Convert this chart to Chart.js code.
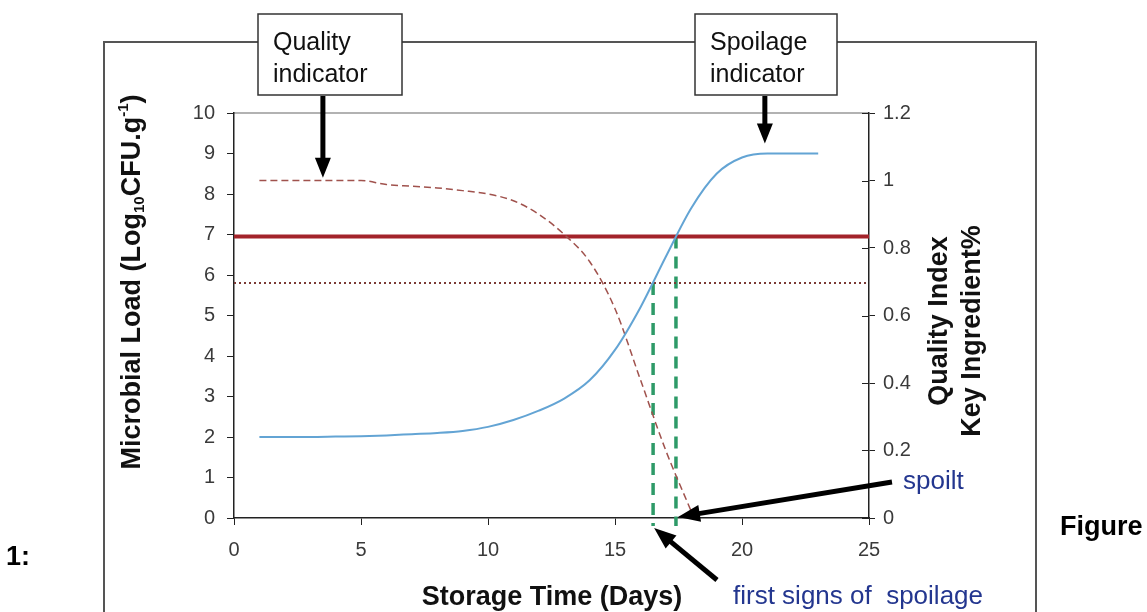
<!DOCTYPE html>
<html>
<head>
<meta charset="utf-8">
<script src="https://cdn.jsdelivr.net/npm/chart.js@4.4.1/dist/chart.umd.min.js"></script>
<style>
  html, body { margin: 0; padding: 0; background: #fff; }
  #wrap { width: 1147px; height: 612px; }
</style>
</head>
<body>
<div id="wrap"><canvas id="myChart" width="1147" height="612"></canvas></div>
<script>
// data
const days = [1, 2, 3, 4, 5, 6, 7, 8, 9, 10, 11, 12, 13, 14, 15, 16, 17, 18, 19, 20, 21, 22, 23];
const microbialLoad = [2.0, 2.0, 2.0, 2.01, 2.02, 2.04, 2.07, 2.1, 2.15, 2.25, 2.42, 2.65, 2.95, 3.4, 4.15, 5.2, 6.45, 7.65, 8.5, 8.9, 9.0, 9.0, 9.0];
const qualityDays = [1, 2, 3, 4, 5, 6, 7, 8, 9, 10, 11, 12, 13, 14, 15, 16, 17, 18];
const qualityIndex = [1.0, 1.0, 1.0, 1.0, 1.0, 0.988, 0.983, 0.978, 0.97, 0.96, 0.94, 0.9, 0.84, 0.76, 0.62, 0.41, 0.2, 0.02];

const spoiltLevel = 6.95;     // solid red limit
const firstSignsLevel = 5.8;  // dotted limit
const firstSignsDay = 16.5;
const spoiltDay = 17.4;

const xTickValues = [0, 5, 10, 15, 20, 25];
const loadTickValues = [0, 1, 2, 3, 4, 5, 6, 7, 8, 9, 10];
const qualityTickValues = [0, 0.2, 0.4, 0.6, 0.8, 1, 1.2];

const FONT = 'Liberation Sans, Arial, sans-serif';

function drawArrow(ctx, x1, y1, x2, y2, w, headLen, headW) {
  const a = Math.atan2(y2 - y1, x2 - x1);
  const len = Math.hypot(x2 - x1, y2 - y1);
  ctx.save();
  ctx.translate(x2, y2);
  ctx.rotate(a);
  ctx.fillStyle = '#000';
  ctx.fillRect(-len, -w / 2, len - headLen + 1, w);
  ctx.beginPath();
  ctx.moveTo(0, 0);
  ctx.lineTo(-headLen, -headW / 2);
  ctx.lineTo(-headLen, headW / 2);
  ctx.closePath();
  ctx.fill();
  ctx.restore();
}

function labelBox(ctx, x, y, w, h, lines) {
  ctx.save();
  ctx.fillStyle = '#fff';
  ctx.fillRect(x, y, w, h);
  ctx.strokeStyle = '#333';
  ctx.lineWidth = 1.5;
  ctx.strokeRect(x, y, w, h);
  ctx.fillStyle = '#111';
  ctx.font = '25px ' + FONT;
  ctx.textAlign = 'left';
  ctx.textBaseline = 'alphabetic';
  ctx.fillText(lines[0], x + 15, y + 36);
  ctx.fillText(lines[1], x + 15, y + 68);
  ctx.restore();
}

const decor = {
  id: 'decor',
  beforeDraw(chart) {
    const ctx = chart.ctx;
    const area = chart.chartArea;
    ctx.save();
    ctx.fillStyle = '#fff';
    ctx.fillRect(0, 0, chart.width, chart.height);
    // outer frame
    ctx.strokeStyle = '#555';
    ctx.lineWidth = 2;
    ctx.strokeRect(104, 42, 932, 620);
    // top border of plot area
    ctx.strokeStyle = '#999';
    ctx.lineWidth = 1.5;
    ctx.beginPath();
    ctx.moveTo(area.left, area.top);
    ctx.lineTo(area.right, area.top);
    ctx.stroke();
    ctx.restore();
  },
  afterDraw(chart) {
    const ctx = chart.ctx;
    const x = chart.scales.x, y = chart.scales.y, y2 = chart.scales.y2;
    ctx.save();

    // inner half of right axis ticks
    ctx.strokeStyle = '#222';
    ctx.lineWidth = 1;
    qualityTickValues.forEach(v => {
      const py = Math.round(y2.getPixelForValue(v)) + 0.5;
      ctx.beginPath();
      ctx.moveTo(y2.left - 7, py);
      ctx.lineTo(y2.left, py);
      ctx.stroke();
    });

    // axis titles
    ctx.fillStyle = '#111';
    ctx.font = 'bold 27px ' + FONT;
    ctx.textAlign = 'center';
    ctx.textBaseline = 'alphabetic';
    ctx.fillText('Storage Time (Days)', 552, 605);

    ctx.save();
    ctx.translate(947, 321);
    ctx.rotate(-Math.PI / 2);
    ctx.fillText('Quality Index', 0, 0);
    ctx.restore();
    ctx.save();
    ctx.translate(980, 331);
    ctx.rotate(-Math.PI / 2);
    ctx.fillText('Key Ingredient%', 0, 0);
    ctx.restore();

    // left title with sub/superscript
    const parts = [
      ['Microbial Load (Log', 'bold 27px ', 0],
      ['10', 'bold 15px ', 4],
      ['CFU.g', 'bold 27px ', 0],
      ['-1', 'bold 15px ', -12],
      [')', 'bold 27px ', 0]
    ];
    let total = 0;
    parts.forEach(p => { ctx.font = p[1] + FONT; total += ctx.measureText(p[0]).width; });
    ctx.save();
    ctx.translate(140, 282);
    ctx.rotate(-Math.PI / 2);
    ctx.textAlign = 'left';
    let pos = -total / 2;
    parts.forEach(p => {
      ctx.font = p[1] + FONT;
      ctx.fillText(p[0], pos, p[2]);
      pos += ctx.measureText(p[0]).width;
    });
    ctx.restore();

    // indicator boxes and arrows
    labelBox(ctx, 258, 14, 144, 81, ['Quality', 'indicator']);
    labelBox(ctx, 695, 14, 142, 81, ['Spoilage', 'indicator']);
    drawArrow(ctx, x.getPixelForValue(3.5), 96, x.getPixelForValue(3.5), y.getPixelForValue(8.4), 5, 20, 16);
    drawArrow(ctx, x.getPixelForValue(20.9), 96, x.getPixelForValue(20.9), y.getPixelForValue(9.25), 5, 20, 16);

    // spoilage annotations
    drawArrow(ctx, 892, 482, x.getPixelForValue(spoiltDay) + 2, y.getPixelForValue(0) - 1, 5, 22, 17);
    drawArrow(ctx, 717, 580, x.getPixelForValue(firstSignsDay) + 1, y.getPixelForValue(0) + 10, 5, 22, 17);

    ctx.fillStyle = '#23368f';
    ctx.font = '26px ' + FONT;
    ctx.textAlign = 'left';
    ctx.fillText('spoilt', 903, 489);
    ctx.fillText('first signs of  spoilage', 733, 604);

    // figure caption fragments
    ctx.fillStyle = '#000';
    ctx.font = 'bold 27px ' + FONT;
    ctx.fillText('Figure', 1060, 535);
    ctx.fillText('1:', 6, 565);

    ctx.restore();
  }
};

const ctx = document.getElementById('myChart').getContext('2d');

new Chart(ctx, {
  type: 'line',
  data: {
    datasets: [
      {
        label: 'Microbial load',
        data: days.map((d, i) => ({ x: d, y: microbialLoad[i] })),
        yAxisID: 'y',
        borderColor: '#63a4d4',
        borderWidth: 2,
        pointRadius: 0,
        cubicInterpolationMode: 'monotone'
      },
      {
        label: 'Quality index',
        data: qualityDays.map((d, i) => ({ x: d, y: qualityIndex[i] })),
        yAxisID: 'y2',
        borderColor: '#a0524d',
        borderWidth: 1.5,
        borderDash: [7, 4],
        pointRadius: 0,
        cubicInterpolationMode: 'monotone'
      },
      {
        label: 'Spoilt limit',
        data: [{ x: 0, y: spoiltLevel }, { x: 25, y: spoiltLevel }],
        yAxisID: 'y',
        borderColor: '#a3232a',
        borderWidth: 4,
        pointRadius: 0
      },
      {
        label: 'First signs limit',
        data: [{ x: 0, y: firstSignsLevel }, { x: 25, y: firstSignsLevel }],
        yAxisID: 'y',
        borderColor: '#7a3a35',
        borderWidth: 2,
        borderDash: [2, 3],
        pointRadius: 0
      },
      {
        label: 'First signs day',
        data: [{ x: firstSignsDay, y: firstSignsLevel }, { x: firstSignsDay, y: -0.2 }],
        yAxisID: 'y',
        borderColor: '#2e9a68',
        borderWidth: 3.5,
        borderDash: [12, 8],
        pointRadius: 0,
        clip: false
      },
      {
        label: 'Spoilt day',
        data: [{ x: spoiltDay, y: spoiltLevel }, { x: spoiltDay, y: -0.2 }],
        yAxisID: 'y',
        borderColor: '#2e9a68',
        borderWidth: 3.5,
        borderDash: [12, 8],
        pointRadius: 0,
        clip: false
      }
    ]
  },
  options: {
    responsive: false,
    animation: false,
    devicePixelRatio: 1,
    layout: {
      padding: { left: 160, right: 218, top: 113, bottom: 54 }
    },
    plugins: {
      legend: { display: false },
      tooltip: { enabled: false }
    },
    scales: {
      x: {
        type: 'linear',
        min: 0,
        max: 25,
        afterBuildTicks: s => { s.ticks = xTickValues.map(v => ({ value: v })); },
        afterFit: s => { s.height = 40; },
        grid: { drawOnChartArea: false, tickLength: 7, color: '#222' },
        border: { display: true, color: '#222', width: 1.5 },
        ticks: { padding: 13, color: '#3a3a3a', font: { family: FONT, size: 20 } }
      },
      y: {
        position: 'left',
        min: 0,
        max: 10,
        afterBuildTicks: s => { s.ticks = loadTickValues.map(v => ({ value: v })); },
        afterFit: s => { s.width = 74; },
        grid: { drawOnChartArea: false, tickLength: 7, color: '#222' },
        border: { display: true, color: '#222', width: 1.5 },
        ticks: { padding: 12, color: '#3a3a3a', font: { family: FONT, size: 20 } }
      },
      y2: {
        position: 'right',
        min: 0,
        max: 1.2,
        afterBuildTicks: s => { s.ticks = qualityTickValues.map(v => ({ value: v })); },
        afterFit: s => { s.width = 60; },
        grid: { drawOnChartArea: false, tickLength: 6, color: '#222' },
        border: { display: true, color: '#222', width: 1.5 },
        ticks: {
          padding: 8,
          color: '#3a3a3a',
          font: { family: FONT, size: 20 },
          callback: v => String(Math.round(v * 10) / 10)
        }
      }
    }
  },
  plugins: [decor]
});
</script>
</body>
</html>
